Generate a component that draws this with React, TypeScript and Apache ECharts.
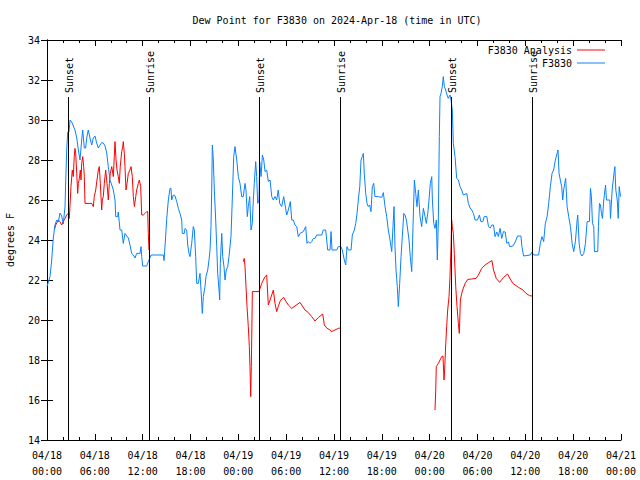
import React, { useEffect, useRef } from "react";
import * as echarts from "echarts";

// time in hours since 2024-04-18 00:00 UTC
const xTickLabels = ["04/18\n00:00", "04/18\n06:00", "04/18\n12:00", "04/18\n18:00", "04/19\n00:00", "04/19\n06:00", "04/19\n12:00", "04/19\n18:00", "04/20\n00:00", "04/20\n06:00", "04/20\n12:00", "04/20\n18:00", "04/21\n00:00"];

const sunTimes = [2.63, 12.8, 26.59, 36.75, 50.68, 60.84];
const sunLabels = ["Sunset", "Sunrise", "Sunset", "Sunrise", "Sunset", "Sunrise"];
const sunLineTop = 31.15;

const obsTime = [
  0, 0.38, 0.59, 0.79, 1.0, 1.22, 1.42, 1.63, 1.84, 2.04, 2.26, 2.35, 2.47, 2.6, 2.76, 2.89, 3.1, 3.3, 3.51, 3.73,
  3.93, 4.14, 4.35, 4.48, 4.68, 4.85, 4.98, 5.18, 5.39, 5.61, 5.81, 6.02, 6.23, 6.44, 6.65, 6.86, 7.06, 7.28, 7.49, 7.69,
  7.9, 8.12, 8.32, 8.53, 8.62, 8.87, 8.94, 9.16, 9.37, 9.57, 9.78, 10.0, 10.2, 10.41, 10.62, 10.83, 11.04, 11.25, 11.67, 11.79,
  11.88, 12.0, 12.51, 12.71, 13.05, 14.59, 14.68, 14.8, 15.02, 15.22, 15.43, 15.55, 15.64, 15.84, 16.06, 16.27, 16.47, 16.68, 16.9, 16.97,
  17.22, 17.31, 17.52, 17.65, 17.81, 17.94, 18.15, 18.35, 18.48, 18.65, 18.78, 18.98, 19.19, 19.32, 19.48, 19.61, 19.82, 19.94, 20.16, 20.32,
  20.45, 20.57, 20.66, 20.74, 20.86, 20.99, 21.16, 21.29, 21.41, 21.58, 21.66, 21.74, 21.92, 22.04, 22.2, 22.33, 22.49, 22.67, 22.83, 23.08,
  23.24, 23.42, 23.58, 23.8, 24.0, 24.21, 24.42, 24.62, 24.84, 24.96, 25.13, 25.25, 25.43, 25.59, 25.75, 25.88, 26.0, 26.18, 26.3, 26.43,
  26.59, 26.68, 26.85, 27.02, 27.19, 27.35, 27.56, 27.76, 27.98, 28.19, 28.39, 28.6, 28.81, 29.01, 29.19, 29.44, 29.69, 29.86, 30.07, 30.27,
  30.52, 30.7, 30.9, 31.11, 31.32, 31.52, 31.74, 32.15, 32.45, 32.61, 32.78, 32.99, 33.2, 33.41, 33.62, 33.83, 34.46, 34.66, 34.96, 35.21,
  35.5, 35.63, 35.75, 36.34, 36.54, 36.88, 37.04, 37.29, 37.47, 37.63, 37.8, 38.14, 38.3, 38.55, 38.73, 38.89, 39.05, 39.23, 39.39, 39.55,
  39.68, 39.8, 39.98, 40.14, 40.3, 40.48, 40.64, 40.81, 40.98, 41.14, 41.56, 41.99, 42.19, 42.4, 42.61, 42.81, 43.03, 43.24, 43.4, 43.53,
  43.65, 43.78, 43.94, 44.07, 44.24, 44.41, 44.57, 44.75, 44.91, 45.08, 45.25, 45.41, 45.57, 45.75, 45.91, 46.08, 46.25, 46.41, 46.58, 46.79,
  47.0, 47.21, 47.42, 47.58, 47.76, 47.92, 48.08, 48.26, 48.34, 48.51, 48.67, 48.84, 48.96, 49.09, 49.21, 49.3, 49.42, 49.59, 49.71, 49.84,
  50.01, 50.18, 50.34, 50.55, 50.68, 50.84, 50.97, 51.18, 51.39, 51.6, 51.81, 52.02, 52.23, 52.65, 52.86, 53.07, 53.28, 53.49, 53.7, 53.99,
  54.24, 54.42, 54.67, 54.84, 55.17, 55.38, 55.59, 55.81, 56.01, 56.2, 56.42, 56.62, 56.83, 57.04, 57.25, 57.47, 57.68, 57.89, 58.02, 58.44,
  58.73, 59.02, 59.45, 59.57, 59.78, 60.62, 60.83, 61.04, 61.67, 61.88, 62.09, 62.3, 62.51, 62.73, 62.93, 63.14, 63.35, 63.55, 63.77, 63.98,
  64.1, 64.23, 64.39, 64.56, 64.69, 64.81, 64.94, 65.06, 65.24, 65.44, 65.66, 65.87, 66.07, 66.28, 66.5, 66.57, 66.75, 66.91, 67.12, 67.33,
  67.54, 67.75, 68.04, 68.17, 68.29, 68.42, 68.58, 68.67, 69.08, 69.17, 69.3, 69.42, 69.55, 69.67, 69.84, 70.06, 70.18, 70.6, 70.68, 70.89,
  71.1, 71.23, 71.35, 71.53, 71.65, 71.78, 71.94,
];
const obsDew = [
  21.67, 22.17, 23.0, 24.1, 24.75, 25.0, 24.9, 25.35, 25.2, 24.8, 25.67, 27.0, 28.5, 29.4, 29.4, 30.0, 29.9, 29.7, 29.5, 29.1,
  28.5, 28.0, 29.0, 29.5, 28.6, 28.6, 29.1, 29.5, 29.1, 28.75, 29.1, 29.2, 28.85, 28.6, 28.75, 28.87, 28.85, 28.7, 28.35, 27.67,
  27.0, 26.75, 26.5, 26.0, 25.17, 25.17, 25.4, 24.5, 24.5, 23.83, 24.33, 24.2, 24.1, 23.75, 23.33, 23.25, 23.1, 23.33, 23.33, 23.67,
  23.17, 22.7, 22.7, 22.92, 23.25, 23.25, 22.97, 23.67, 25.08, 26.0, 26.58, 26.58, 26.0, 26.25, 26.2, 25.92, 25.58, 25.33, 25.0, 24.33,
  24.33, 24.58, 24.5, 23.75, 23.33, 23.17, 23.83, 24.67, 24.5, 23.17, 21.83, 21.83, 22.33, 21.5, 20.33, 21.17, 21.67, 22.17, 22.5, 23.0,
  23.5, 24.67, 26.5, 28.75, 28.0, 26.5, 25.0, 23.67, 22.33, 21.5, 21.0, 22.83, 24.33, 23.17, 22.67, 22.0, 22.5, 22.67, 23.17, 24.17,
  26.0, 28.17, 28.67, 28.0, 27.17, 26.83, 26.17, 26.17, 26.83, 26.5, 25.17, 25.67, 26.17, 24.5, 24.83, 26.0, 26.83, 27.92, 27.17, 25.83,
  26.0, 27.92, 27.17, 28.25, 28.0, 27.42, 27.5, 26.92, 27.0, 26.17, 26.0, 26.17, 26.0, 26.5, 25.83, 25.67, 26.17, 25.75, 25.25, 25.5,
  25.92, 25.0, 25.0, 24.75, 24.67, 24.17, 24.33, 24.42, 24.67, 23.83, 23.92, 23.83, 23.92, 24.08, 24.08, 24.25, 24.25, 24.5, 24.5, 23.5,
  23.5, 24.42, 23.5, 23.5, 23.67, 23.67, 23.5, 23.0, 22.75, 23.67, 23.5, 23.5, 24.25, 24.5, 24.83, 25.33, 26.0, 26.67, 28.0, 28.17,
  28.33, 27.33, 26.33, 25.83, 25.67, 25.75, 25.42, 26.67, 26.83, 26.17, 26.17, 26.13, 26.37, 25.67, 25.17, 24.5, 24.0, 23.42, 24.67, 25.67,
  23.67, 22.5, 21.67, 20.67, 21.83, 23.17, 24.17, 25.33, 25.25, 25.0, 24.5, 24.0, 23.17, 22.42, 24.67, 27.0, 26.33, 25.67, 26.5, 25.17,
  24.67, 25.58, 25.17, 24.83, 25.33, 26.0, 26.83, 27.17, 26.0, 24.83, 24.58, 25.0, 23.0, 25.0, 29.17, 31.17, 31.33, 31.67, 32.17, 31.67,
  31.5, 31.25, 31.08, 31.25, 31.0, 30.5, 28.83, 28.17, 27.08, 27.0, 26.67, 26.5, 26.25, 26.33, 25.83, 25.6, 25.5, 25.33, 25.0, 25.0,
  25.25, 24.92, 24.92, 25.17, 25.17, 24.67, 24.6, 24.75, 24.75, 24.17, 24.4, 24.17, 24.58, 24.08, 24.42, 24.4, 23.83, 23.9, 23.67, 23.7,
  23.9, 24.2, 24.2, 23.67, 23.2, 23.25, 23.4, 23.25, 23.25, 23.83, 24.17, 23.92, 24.83, 25.17, 25.83, 26.67, 27.33, 27.5, 28.0, 28.33,
  28.5, 27.33, 27.0, 26.67, 26.0, 26.5, 26.83, 27.08, 25.67, 25.17, 24.67, 23.83, 23.42, 23.92, 25.0, 25.25, 23.83, 23.33, 23.2, 23.33,
  23.83, 24.92, 24.92, 26.58, 26.17, 24.83, 24.67, 23.42, 23.42, 24.67, 25.83, 25.75, 25.33, 25.08, 26.0, 26.75, 26.0, 26.0, 25.08, 26.5,
  27.25, 27.67, 26.5, 26.0, 25.08, 26.67, 26.17,
];

const anaTime1 = [
  0.92, 1.09, 1.42, 1.63, 1.84, 2.04, 2.26, 2.47, 2.67, 2.8, 2.92, 3.01, 3.17, 3.3, 3.42, 3.51, 3.6, 3.73, 3.85, 3.93,
  4.06, 4.18, 4.27, 4.35, 4.48, 4.6, 4.68, 4.77, 5.61, 5.69, 5.81, 5.93, 6.11, 6.27, 6.44, 6.56, 6.69, 6.86, 6.94, 7.06,
  7.19, 7.36, 7.53, 7.69, 7.82, 7.94, 8.12, 8.32, 8.44, 8.53, 8.66, 8.78, 8.94, 9.07, 9.19, 9.37, 9.5, 9.57, 9.7, 9.78,
  9.91, 10.04, 10.2, 10.41, 10.54, 10.7, 10.83, 10.96, 11.13, 11.25, 11.45, 11.58, 11.75, 11.88, 12.08, 12.29, 12.51, 12.63, 12.71, 12.79,
];
const anaDew1 = [
  24.5, 24.75, 25.0, 24.92, 24.75, 24.92, 25.08, 25.25, 25.33, 25.08, 26.0, 26.67, 27.5, 27.17, 28.17, 28.58, 28.33, 27.33, 26.33, 26.83,
  27.08, 27.5, 27.0, 27.83, 28.17, 27.67, 27.17, 25.83, 25.83, 25.75, 25.67, 26.17, 26.5, 27.0, 27.5, 27.67, 26.83, 25.5, 26.0, 26.17,
  26.83, 27.5, 26.83, 26.0, 26.83, 27.33, 27.67, 27.17, 28.17, 28.92, 28.0, 27.5, 27.17, 26.83, 27.67, 28.42, 28.67, 28.92, 28.33, 27.67,
  26.5, 26.83, 27.33, 27.5, 27.67, 27.17, 26.17, 25.67, 26.17, 26.5, 26.83, 27.0, 26.67, 25.25, 25.25, 25.33, 25.42, 25.42, 24.33, 23.5,
];
const anaTime2 = [
  24.62, 24.74, 24.84, 24.96, 25.09, 25.25, 25.38, 25.46, 25.55, 25.63, 25.76, 26.59, 26.93, 27.35, 27.56, 27.76, 27.98, 28.19, 28.39, 28.6,
  28.81, 29.01, 29.22, 29.44, 29.69, 29.86, 30.27, 30.7, 31.11, 31.74, 31.95, 32.36, 32.78, 33.2, 33.62, 34.03, 34.58, 34.79, 35.09, 35.5,
  35.71, 36.12, 36.54, 36.79,
];
const anaDew2 = [
  22.92, 23.08, 22.67, 21.67, 20.67, 19.67, 18.67, 17.67, 16.17, 17.67, 21.42, 21.42, 21.83, 22.17, 22.25, 20.75, 21.0, 21.25, 21.5, 20.83,
  20.42, 20.67, 20.92, 21.05, 21.13, 21.0, 20.75, 20.58, 20.7, 20.88, 20.75, 20.5, 20.37, 20.17, 19.95, 20.12, 20.3, 19.75, 19.6, 19.5,
  19.42, 19.5, 19.58, 19.6,
];
const anaTime3 = [
  48.67, 48.76, 48.83, 49.09, 49.3, 49.51, 49.67, 49.8, 49.88, 50.01, 50.13, 50.26, 50.43, 50.55, 50.68, 50.76, 50.84, 50.97, 51.09, 51.27,
  51.43, 51.6, 51.72, 51.85, 52.02, 52.23, 52.45, 52.78, 53.28, 53.82, 54.11, 54.53, 54.95, 55.38, 55.81, 56.01, 56.35, 56.77, 57.27, 57.77,
  58.1, 58.44, 59.15, 59.7, 60.09, 60.52, 60.84,
];
const anaDew3 = [
  15.5, 16.5, 17.67, 17.83, 18.0, 18.17, 18.2, 17.0, 17.5, 18.75, 19.67, 20.5, 21.17, 22.17, 23.67, 25.0, 24.67, 24.33, 23.33, 21.67,
  20.67, 19.83, 19.33, 21.0, 21.33, 21.6, 21.83, 22.03, 22.05, 22.08, 22.25, 22.58, 22.75, 22.87, 22.97, 22.5, 22.08, 21.88, 22.13, 22.3,
  22.05, 21.83, 21.63, 21.5, 21.33, 21.22, 21.2,
];

const FONT = "'DejaVu Sans Mono', 'Liberation Mono', monospace";
const FS = 10;
const RED = "#ff0000";
const BLUE = "#0a80ff";

const zip = (t: number[], v: number[]) => t.map((x, i) => [x, v[i]]);

export default function App() {
  const ref = useRef<HTMLDivElement>(null);
  useEffect(() => {
    document.body.style.margin = "0";
    const chart = echarts.init(ref.current!, null, { renderer: "svg" });
    const redSeries = (data: number[][]) => ({
      type: "line",
      name: "F3830 Analysis",
      data,
      symbol: "none",
      lineStyle: { color: RED, width: 1 },
      itemStyle: { color: RED },
      z: 2,
    });
    chart.setOption({
      animation: false,
      backgroundColor: "#ffffff",
      title: {
        text: "Dew Point for F3830 on 2024-Apr-18 (time in UTC)",
        left: 332,
        textAlign: "center",
        top: 10,
        textStyle: { fontFamily: FONT, fontSize: FS, fontWeight: "normal", color: "#000" },
      },
      legend: {
        orient: "vertical",
        right: 30,
        top: 39,
        align: "right",
        icon: "rect",
        itemWidth: 28,
        itemHeight: 1,
        itemGap: 1,
        data: ["F3830 Analysis", "F3830"],
        textStyle: { fontFamily: FONT, fontSize: FS, color: "#000", lineHeight: 12 },
      },
      grid: { left: 47, right: 19, top: 40, bottom: 40, containLabel: false, outerBoundsMode: "none" },
      xAxis: [
        {
          type: "value",
          min: 0,
          max: 72,
          interval: 6,
          axisLine: { lineStyle: { color: "#000", width: 1 } },
          axisTick: { inside: true, length: 6, lineStyle: { color: "#000" } },
          minorTick: { show: true, splitNumber: 3, length: 3, lineStyle: { color: "#000" } },
          splitLine: { show: false },
          axisLabel: {
            formatter: (v: number) => xTickLabels[Math.round(v / 6)],
            fontFamily: FONT,
            fontSize: FS,
            color: "#000",
            lineHeight: 16,
            margin: 7,
            hideOverlap: false,
          },
        },
        {
          type: "value",
          position: "top",
          min: 0,
          max: 72,
          interval: 6,
          axisLine: { lineStyle: { color: "#000", width: 1 } },
          axisTick: { inside: true, length: 6, lineStyle: { color: "#000" } },
          minorTick: { show: true, splitNumber: 3, length: 3, lineStyle: { color: "#000" } },
          splitLine: { show: false },
          axisLabel: { show: false },
        },
      ],
      yAxis: [
        {
          type: "value",
          min: 14,
          max: 34,
          interval: 2,
          name: "degrees F",
          nameLocation: "middle",
          nameRotate: 90,
          nameGap: 32,
          nameTextStyle: { fontFamily: FONT, fontSize: FS, color: "#000" },
          axisLine: { show: true, lineStyle: { color: "#000", width: 1 } },
          axisTick: { inside: true, length: 6, lineStyle: { color: "#000" } },
          splitLine: { show: false },
          axisLabel: { fontFamily: FONT, fontSize: FS, color: "#000", margin: 7 },
        },
        {
          type: "value",
          position: "right",
          min: 14,
          max: 34,
          interval: 2,
          axisLine: { show: true, lineStyle: { color: "#000", width: 1 } },
          axisTick: { inside: true, length: 6, lineStyle: { color: "#000" } },
          splitLine: { show: false },
          axisLabel: { show: false },
        },
      ],
      series: [
        redSeries(zip(anaTime1, anaDew1)),
        redSeries(zip(anaTime2, anaDew2)),
        redSeries(zip(anaTime3, anaDew3)),
        {
          type: "line",
          name: "F3830",
          data: zip(obsTime, obsDew),
          symbol: "none",
          lineStyle: { color: BLUE, width: 1 },
          itemStyle: { color: BLUE },
          z: 3,
        },
        {
          type: "custom",
          name: "sun",
          data: sunTimes.map((t) => [t, sunLineTop]),
          z: 4,
          renderItem: (params: any, api: any) => {
            const top = api.coord([api.value(0), api.value(1)]);
            const bot = api.coord([api.value(0), 14]);
            const x = Math.round(top[0]) + 0.5;
            return {
              type: "group",
              children: [
                {
                  type: "line",
                  shape: { x1: x, y1: top[1], x2: x, y2: bot[1] },
                  style: { stroke: "#000", lineWidth: 1 },
                },
                {
                  type: "text",
                  x: x + 1,
                  y: top[1] - 4,
                  rotation: Math.PI / 2,
                  style: {
                    text: sunLabels[params.dataIndex],
                    fontFamily: FONT,
                    fontSize: FS,
                    fill: "#000",
                    align: "left",
                    verticalAlign: "middle",
                  },
                },
              ],
            };
          },
        },
      ],
    });
    return () => chart.dispose();
  }, []);
  return <div ref={ref} style={{ width: 640, height: 480 }} />;
}
